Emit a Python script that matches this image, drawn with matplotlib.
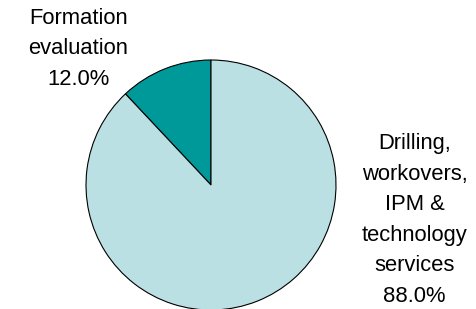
import matplotlib
matplotlib.use("Agg")
import matplotlib.pyplot as plt

plt.rcParams['font.family'] = ['Liberation Sans', 'DejaVu Sans']

# Data
segments = ['Formation\nevaluation', 'Drilling,\nworkovers,\nIPM &\ntechnology\nservices']
shares = [12.0, 88.0]
colors = ['#009999', '#BBE0E3']

fig = plt.figure(figsize=(4.76, 3.09), dpi=100)
ax = fig.add_axes([0, 0, 1, 1])

ax.pie(shares, colors=colors, startangle=90, counterclock=True,
       wedgeprops=dict(edgecolor='black', linewidth=0.8))

# place the pie: centre at (211, 185) px from top-left, radius 125 px
ax.set_aspect('auto')
ax.set_xlim(-211 / 125, (476 - 211) / 125)
ax.set_ylim(-(309 - 185) / 125, 185 / 125)
ax.axis('off')

# labels
label_pos = [(-1.06, 1.09), (1.63, -0.28)]
for name, val, (x, y) in zip(segments, shares, label_pos):
    ax.text(x, y, f"{name}\n{val:.1f}%", ha='center', va='center',
            fontsize=15.8, linespacing=1.6, color='black')

fig.savefig('out.png', dpi=100)
